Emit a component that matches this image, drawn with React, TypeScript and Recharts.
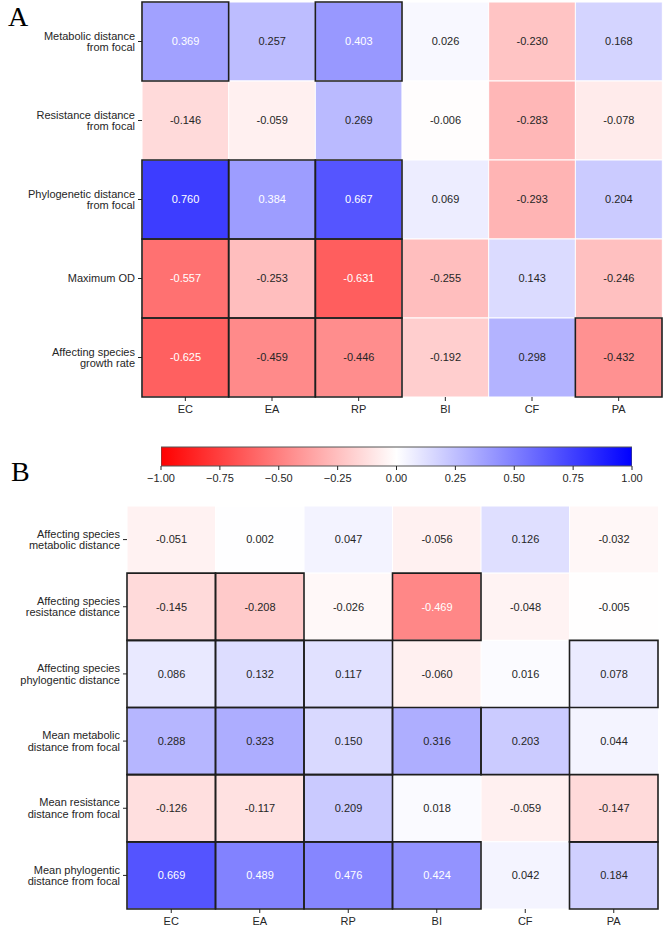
import React from 'react';
import { BarChart, Bar, Cell, XAxis, YAxis, LabelList, ReferenceArea } from 'recharts';

const FONT = '"Liberation Sans", Arial, sans-serif';
const INK = '#262626';

const columns = ['EC', 'EA', 'RP', 'BI', 'CF', 'PA'];

const rowsA = [
  'Metabolic distance\nfrom focal',
  'Resistance distance\nfrom focal',
  'Phylogenetic distance\nfrom focal',
  'Maximum OD',
  'Affecting species\ngrowth rate',
];
const valuesA = [
  [0.369, 0.257, 0.403, 0.026, -0.23, 0.168],
  [-0.146, -0.059, 0.269, -0.006, -0.283, -0.078],
  [0.76, 0.384, 0.667, 0.069, -0.293, 0.204],
  [-0.557, -0.253, -0.631, -0.255, 0.143, -0.246],
  [-0.625, -0.459, -0.446, -0.192, 0.298, -0.432],
];
const boxedA = [
  [1, 0, 1, 0, 0, 0],
  [0, 0, 0, 0, 0, 0],
  [1, 1, 1, 0, 0, 0],
  [1, 1, 1, 0, 0, 0],
  [1, 1, 1, 0, 0, 1],
];

const rowsB = [
  'Affecting species\nmetabolic distance',
  'Affecting species\nresistance distance',
  'Affecting species\nphylogentic distance',
  'Mean metabolic\ndistance from focal',
  'Mean resistance\ndistance from focal',
  'Mean phylogentic\ndistance from focal',
];
const valuesB = [
  [-0.051, 0.002, 0.047, -0.056, 0.126, -0.032],
  [-0.145, -0.208, -0.026, -0.469, -0.048, -0.005],
  [0.086, 0.132, 0.117, -0.06, 0.016, 0.078],
  [0.288, 0.323, 0.15, 0.316, 0.203, 0.044],
  [-0.126, -0.117, 0.209, 0.018, -0.059, -0.147],
  [0.669, 0.489, 0.476, 0.424, 0.042, 0.184],
];
const boxedB = [
  [0, 0, 0, 0, 0, 0],
  [1, 1, 0, 1, 0, 0],
  [1, 1, 1, 0, 0, 1],
  [1, 1, 1, 1, 1, 0],
  [1, 1, 1, 0, 0, 1],
  [1, 1, 1, 1, 0, 1],
];

const colorbarRange = [-1, 1];
const colorbarTicks = [-1, -0.75, -0.5, -0.25, 0, 0.25, 0.5, 0.75, 1];

// bwr_r: -1 red, 0 white, +1 blue
function rgbFor(v: number): number[] {
  const t = Math.max(-1, Math.min(1, v));
  if (t >= 0) return [1 - t, 1 - t, 1];
  return [1, 1 + t, 1 + t];
}

function cellColor(v: number) {
  const [r, g, b] = rgbFor(v).map((c) => Math.round(c * 255));
  return `rgb(${r},${g},${b})`;
}

// same rule seaborn uses for annotation colour
function textColor(v: number) {
  const lin = rgbFor(v).map((c) => (c <= 0.03928 ? c / 12.92 : Math.pow((c + 0.055) / 1.055, 2.4)));
  const lum = 0.2126 * lin[0] + 0.7152 * lin[1] + 0.0722 * lin[2];
  return lum > 0.408 ? INK : '#ffffff';
}

function buildTable(values: number[][]) {
  return columns.map((name, c) => {
    const row: any = { name };
    values.forEach((r, i) => {
      row[`r${i}`] = 1;
      row[`v${i}`] = r[c];
    });
    return row;
  });
}

function RowTick(props: any) {
  const { x, y, payload, rows } = props;
  const lines: string[] = rows[Math.floor(payload.value)].split('\n');
  const lh = 11.6;
  return (
    <text x={x} y={y} textAnchor="end" fill={INK} fontSize={11} fontFamily={FONT}>
      {lines.map((l, i) => (
        <tspan key={i} x={x} y={y + (i - (lines.length - 1) / 2) * lh} dy="0.355em">
          {l}
        </tspan>
      ))}
    </text>
  );
}

function ValueLabel(props: any) {
  const { x, y, width, height, value } = props;
  if (value == null) return null;
  return (
    <text
      x={x + width / 2}
      y={y + height / 2}
      dy="0.355em"
      textAnchor="middle"
      fill={textColor(value)}
      fontSize={11}
      fontFamily={FONT}
    >
      {Number(value).toFixed(3)}
    </text>
  );
}

interface HeatmapProps {
  rows: string[];
  values: number[][];
  boxed: number[][];
  height: number;
  margin: { top: number; right: number; left: number; bottom: number };
  yAxisWidth: number;
  xAxisHeight: number;
}

function Heatmap({ rows, values, boxed, height, margin, yAxisWidth, xAxisHeight }: HeatmapProps) {
  const data = buildTable(values);
  const rowTicks = rows.map((_, i) => i + 0.5);

  return (
    <BarChart width={664} height={height} data={data} margin={margin} barCategoryGap={0}>
      <XAxis
        dataKey="name"
        height={xAxisHeight}
        axisLine={false}
        tickSize={4}
        tickMargin={4}
        tickLine={{ stroke: INK }}
        tick={{ fill: INK, fontSize: 11, fontFamily: FONT }}
        interval={0}
      />
      <YAxis
        type="number"
        domain={[0, rows.length]}
        reversed
        ticks={rowTicks}
        width={yAxisWidth}
        axisLine={false}
        tickSize={4}
        tickMargin={3}
        tickLine={{ stroke: INK }}
        tick={<RowTick rows={rows} />}
        interval={0}
      />
      {rows.map((_, i) => (
        <Bar key={i} dataKey={`r${i}`} stackId="grid" isAnimationActive={false}>
          {columns.map((c, j) => (
            <Cell key={c} fill={cellColor(values[i][j])} stroke="#ffffff" strokeWidth={1} />
          ))}
          <LabelList dataKey={`v${i}`} content={<ValueLabel />} />
        </Bar>
      ))}
      {rows.map((_, i) =>
        columns.map((c, j) =>
          boxed[i][j] ? (
            <ReferenceArea
              key={`${i}-${c}`}
              x1={c}
              x2={c}
              y1={i}
              y2={i + 1}
              fill="none"
              fillOpacity={0}
              stroke="#1e1e1e"
              strokeWidth={1.6}
              zIndex={1500}
            />
          ) : null,
        ),
      )}
    </BarChart>
  );
}

function Colorbar() {
  const data = [{ name: 'r', range: colorbarRange }];
  return (
    <BarChart
      width={664}
      height={50}
      layout="vertical"
      data={data}
      margin={{ top: 7, right: 32, bottom: 0, left: 161 }}
      barCategoryGap={0}
    >
      <XAxis
        type="number"
        domain={colorbarRange}
        ticks={colorbarTicks}
        tickFormatter={(v: number) => v.toFixed(2).replace('-', '\u2212')}
        height={24}
        axisLine={false}
        tickSize={4}
        tickMargin={4}
        tickLine={{ stroke: INK }}
        tick={{ fill: INK, fontSize: 11, fontFamily: FONT }}
        interval={0}
        allowDataOverflow
      />
      <YAxis type="category" dataKey="name" hide width={0} />
      <Bar dataKey="range" fill="url(#bwr)" stroke="#555555" strokeWidth={1} isAnimationActive={false} />
    </BarChart>
  );
}

const panelLetter: React.CSSProperties = {
  position: 'absolute',
  fontFamily: '"Liberation Serif", "Times New Roman", serif',
  fontSize: 28,
  lineHeight: 1,
  color: '#000',
};

export default function App() {
  return (
    <div style={{ position: 'absolute', left: 0, top: 0, width: 664, height: 928, background: '#fff' }}>
      <svg width={0} height={0} style={{ position: 'absolute' }}>
        <defs>
          <linearGradient id="bwr" x1="0" y1="0" x2="1" y2="0">
            <stop offset="0" stopColor="#ff0000" />
            <stop offset="0.5" stopColor="#ffffff" />
            <stop offset="1" stopColor="#0000ff" />
          </linearGradient>
        </defs>
      </svg>
      <div style={{ position: 'absolute', left: 0, top: 0 }}>
        <Heatmap
          rows={rowsA}
          values={valuesA}
          boxed={boxedA}
          height={423}
          margin={{ top: 2, right: 2, left: 0, bottom: 0 }}
          yAxisWidth={142}
          xAxisHeight={26}
        />
      </div>
      <div style={{ position: 'absolute', left: 0, top: 440 }}>
        <Colorbar />
      </div>
      <div style={{ position: 'absolute', left: 0, top: 500 }}>
        <Heatmap
          rows={rowsB}
          values={valuesB}
          boxed={boxedB}
          height={428}
          margin={{ top: 6, right: 6, left: 0, bottom: 0 }}
          yAxisWidth={127}
          xAxisHeight={19}
        />
      </div>
      <div style={{ ...panelLetter, left: 8, top: 3 }}>A</div>
      <div style={{ ...panelLetter, left: 11, top: 458 }}>B</div>
    </div>
  );
}
